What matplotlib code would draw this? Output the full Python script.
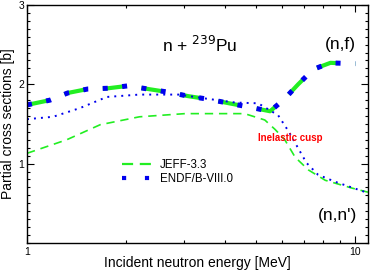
import matplotlib
matplotlib.use("Agg")
import matplotlib.pyplot as plt
from matplotlib.lines import Line2D
from matplotlib.ticker import FixedLocator, FixedFormatter, MultipleLocator, NullFormatter

plt.rcParams['font.family'] = ['Liberation Sans', 'DejaVu Sans']

# (n,f) fission cross section, both libraries nearly identical
fis_e = [1.0, 1.175, 1.33, 1.53, 1.77, 2.03, 2.34, 2.7, 3.1, 3.59, 4.13, 4.78, 5.5, 6.07, 6.7, 7.46, 8.4, 9.7, 10.0]
fis_jeff = [1.74, 1.80, 1.89, 1.94, 1.95, 1.98, 1.94, 1.90, 1.85, 1.81, 1.76, 1.71, 1.66, 1.81, 2.00, 2.19, 2.27, 2.26, 2.26]
fis_endf = [1.74, 1.80, 1.89, 1.94, 1.95, 1.98, 1.94, 1.90, 1.85, 1.81, 1.76, 1.71, 1.66, 1.81, 2.00, 2.19, 2.27, 2.26, 2.26]

# (n,n') inelastic cross section
inl_e_jeff = [1.0, 1.32, 1.67, 2.2, 3.03, 3.8, 4.6, 5.3, 5.7, 6.1, 6.56, 7.2, 8.1, 9.8, 10.93]
inl_jeff = [1.13, 1.30, 1.49, 1.59, 1.63, 1.63, 1.63, 1.55, 1.43, 1.30, 1.08, 0.92, 0.79, 0.69, 0.64]
inl_e_endf = [1.0, 1.2, 1.45, 1.75, 2.2, 2.9, 3.5, 4.3, 5.06, 5.82, 6.3, 6.56, 7.1, 7.7, 8.7, 10.93]
inl_endf = [1.56, 1.59, 1.70, 1.84, 1.87, 1.87, 1.82, 1.77, 1.76, 1.61, 1.39, 1.26, 1.01, 0.86, 0.77, 0.63]

green = '#22ee22'
blue = '#0000ee'

fig = plt.figure(figsize=(3.71, 2.73), dpi=100)
ax = fig.add_axes([0.0728, 0.110, 0.919, 0.872])

# fission: thick dashed green + thick square-dotted blue (blue period = half green period)
ax.plot(fis_e, fis_jeff, color=green, lw=3.0, linestyle=(0, (5.16, 4.2)), dash_capstyle='butt')
ax.plot(fis_e, fis_endf, color=blue, lw=3.6, linestyle=(0, (1, 2.9)), dash_capstyle='butt')

# inelastic: thin lines
ax.plot(inl_e_jeff, inl_jeff, color=green, lw=1.2, linestyle=(0, (5, 3.5)))
ax.plot(inl_e_endf, inl_endf, color=blue, lw=1.4, linestyle=(0, (1, 2.6)))

ax.set_xscale('log')
ax.set_xlim(1, 10.93)
ax.set_ylim(0, 3)

ax.xaxis.set_major_locator(FixedLocator([1, 10]))
ax.xaxis.set_minor_locator(FixedLocator([2, 3, 4, 5, 6, 7, 8, 9]))
ax.xaxis.set_major_formatter(FixedFormatter(['1', '10']))
ax.xaxis.set_minor_formatter(NullFormatter())
ax.yaxis.set_major_locator(FixedLocator([1, 2, 3]))
ax.yaxis.set_minor_locator(MultipleLocator(0.1))

ax.tick_params(which='both', direction='in', top=True, right=True, labelsize=7.5, width=0.8)
ax.tick_params(which='major', length=5)
ax.tick_params(which='minor', length=2.5)
ax.tick_params(axis='x', pad=3)
ax.tick_params(axis='y', pad=2)
for s in ax.spines.values():
    s.set_linewidth(1.0)

ax.set_xlabel('Incident neutron energy [MeV]', fontsize=10, va='center')
ax.set_ylabel('Partial cross sections [b]', fontsize=10, va='center')
ax.xaxis.set_label_coords(0.5, -0.084)
ax.yaxis.set_label_coords(-0.056, 0.5)

ax.text(2.58, 2.41, r'n + $^{239}$Pu', fontsize=12.5, ha='left', va='baseline')
ax.text(8.1, 2.45, '(n,f)', fontsize=12.5, ha='left', va='baseline')
ax.text(7.7, 0.29, "(n,n')", fontsize=12.5, ha='left', va='baseline')
ax.text(6.35, 1.32, 'Inelastic cusp', color='red', fontsize=7, fontweight='bold', ha='center', va='center')

handles = [
    Line2D([], [], color=green, lw=1.6, linestyle=(0, (5, 3))),
    Line2D([], [], color=blue, lw=3.0, linestyle=(0, (1, 4.5)), dash_capstyle='butt'),
]
ax.legend(handles, ['JEFF-3.3', 'ENDF/B-VIII.0'], loc='upper left', bbox_to_anchor=(0.255, 0.385),
          frameon=False, fontsize=8.3, handlelength=2.8, handletextpad=0.5, labelspacing=0.15,
          borderpad=0.2)

fig.savefig('out.png', dpi=100)
